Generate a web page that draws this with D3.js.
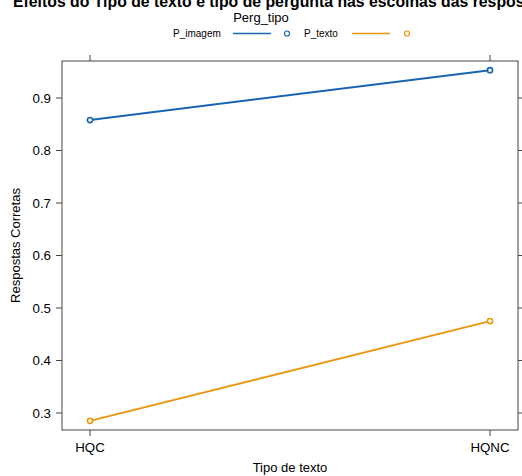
<!DOCTYPE html>
<html><head><meta charset="utf-8">
<script src="https://cdn.jsdelivr.net/npm/d3@7"></script>
<style>body{margin:0;background:#fff}svg{display:block;font-family:"Liberation Sans",Arial,sans-serif}</style>
</head><body><svg id="c" width="522" height="476"></svg>
<script>
const categories = ["HQC", "HQNC"];
const seriesNames = ["P_imagem", "P_texto"];
const P_imagem = [0.858, 0.953];
const P_texto = [0.285, 0.475];
const yTicks = [0.3, 0.4, 0.5, 0.6, 0.7, 0.8, 0.9];
const colors = ["#1a65b0", "#e8970f"];
const series = [P_imagem, P_texto];

const svg = d3.select("#c");
const L = 62, R = 518, T = 61, B = 430;
const x = d3.scalePoint().domain(categories).range([90, 490]).padding(0);
const y = d3.scaleLinear().domain([0.2676, 0.9705]).range([B, T]);

// title (clipped at top, as in the reference)
svg.append("text").attr("x", 13).attr("y", 7).attr("font-weight", "bold").attr("font-size", 15.8)
  .text("Efeitos do Tipo de texto e tipo de pergunta nas escolhas das respostas");

// legend
svg.append("text").attr("x", 261).attr("y", 22).attr("text-anchor", "middle").attr("font-size", 13).text("Perg_tipo");
const lg = svg.append("g").attr("font-size", 10);
const legendX = [[173, 233, 287], [304, 352, 407]];
seriesNames.forEach((n, i) => {
  const [tx, lx, cx] = legendX[i];
  lg.append("text").attr("x", tx).attr("y", 37).text(n);
  lg.append("line").attr("x1", lx).attr("x2", lx + 38).attr("y1", 33.5).attr("y2", 33.5)
    .attr("stroke", colors[i]).attr("stroke-width", 1.5);
  lg.append("circle").attr("cx", cx).attr("cy", 33.5).attr("r", 2.5).attr("fill", "none")
    .attr("stroke", colors[i]).attr("stroke-width", 1.2);
});

// panel box
svg.append("rect").attr("x", L).attr("y", T).attr("width", R - L).attr("height", B - T)
  .attr("fill", "none").attr("stroke", "#444").attr("stroke-width", 1);

// axes ticks on all four sides
const ax = svg.append("g").attr("fill", "none").attr("stroke", "#444");
categories.forEach(c => {
  ax.append("line").attr("x1", x(c)).attr("x2", x(c)).attr("y1", B).attr("y2", B + 6);
  ax.append("line").attr("x1", x(c)).attr("x2", x(c)).attr("y1", T).attr("y2", T - 6);
});
yTicks.forEach(v => {
  ax.append("line").attr("x1", L).attr("x2", L - 6).attr("y1", y(v)).attr("y2", y(v));
  ax.append("line").attr("x1", R).attr("x2", R + 6).attr("y1", y(v)).attr("y2", y(v));
});
const tl = svg.append("g").attr("font-size", 13.3).attr("fill", "#000");
categories.forEach(c => {
  tl.append("text").attr("x", x(c)).attr("y", B + 22).attr("text-anchor", "middle").text(c);
});
yTicks.forEach(v => {
  tl.append("text").attr("x", 51).attr("y", y(v) + 4.8).attr("text-anchor", "end").text(d3.format(".1f")(v));
});
svg.append("text").attr("x", 290).attr("y", 472).attr("text-anchor", "middle").attr("font-size", 13).text("Tipo de texto");
svg.append("text").attr("transform", "translate(20," + ((T + B) / 2) + ") rotate(-90)")
  .attr("text-anchor", "middle").attr("font-size", 13).text("Respostas Corretas");

// lines and points
const line = d3.line().x((d, i) => x(categories[i])).y(d => y(d));
series.forEach((s, i) => {
  svg.append("path").attr("d", line(s)).attr("fill", "none").attr("stroke", colors[i]).attr("stroke-width", 2);
  svg.selectAll(null).data(s).enter().append("circle")
    .attr("cx", (d, j) => x(categories[j])).attr("cy", d => y(d)).attr("r", 2.6)
    .attr("fill", "#fff").attr("stroke", colors[i]).attr("stroke-width", 1.6);
});
</script></body></html>
